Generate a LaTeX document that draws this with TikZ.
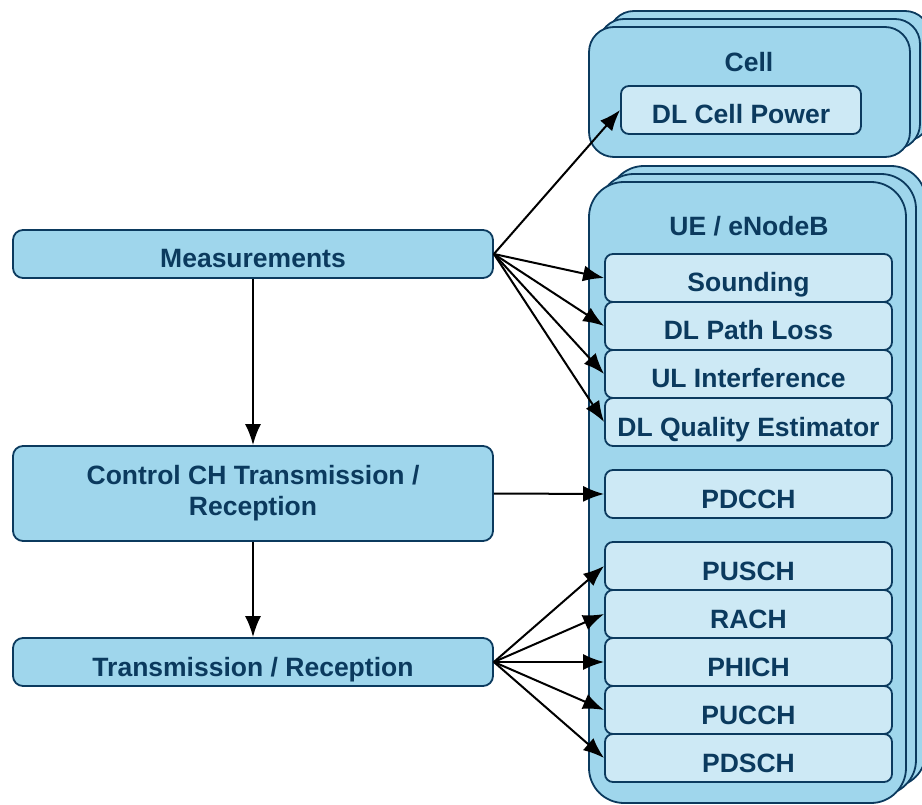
\documentclass[tikz,border=0pt]{standalone}
\usepackage{fontspec}
\setmainfont{Liberation Sans}
\usetikzlibrary{arrows.meta}

\definecolor{BoxBorder}{HTML}{0B3A5E}
\definecolor{BoxFill}{HTML}{9FD6EC}
\definecolor{ItemFill}{HTML}{CDE9F5}
\definecolor{BoxText}{HTML}{0B3A5E}

\tikzset{
  block/.style={draw=BoxBorder, fill=BoxFill, line width=1.8pt, rounded corners=10pt,
    text=BoxText, font=\fontsize{26.5}{31}\selectfont\bfseries, align=center,
    minimum width=480pt, minimum height=48pt, inner sep=0pt},
  oneline/.style={text height=30pt, text depth=2pt},
  item/.style={block, oneline, fill=ItemFill, rounded corners=8pt, minimum width=287pt},
  stack/.style={draw=BoxBorder, fill=BoxFill, line width=1.8pt},
  title/.style={text=BoxText, font=\fontsize{26.5}{31}\selectfont\bfseries},
  flow/.style={-{Latex[length=21pt,width=16pt]}, line width=2pt, black},
}

\begin{document}
\begin{tikzpicture}[x=1pt,y=-1pt]
\useasboundingbox (0,0) rectangle (922,805);

% Stapel hinten
\foreach \dx/\dy in {20/-16, 10/-8} {
  \draw[stack, rounded corners=25pt] (589+\dx,27+\dy) rectangle (910+\dx,157+\dy);
  \draw[stack, rounded corners=35pt] (589+\dx,182+\dy) rectangle (906+\dx,803+\dy);
}

% Cell
\node[stack, rounded corners=25pt, minimum width=321pt, minimum height=130pt, inner sep=0pt] (cell) at (749.5,92) {};
\node[title] (celltitle) at (749,62) {Cell};
\node[item, minimum width=240pt] (cellpower) at (741,110) {DL Cell Power};

% UE / eNodeB
\node[stack, rounded corners=35pt, minimum width=317pt, minimum height=621pt, inner sep=0pt] (ue) at (747.5,492.5) {};
\node[title] (uetitle) at (749,226) {UE / eNodeB};
\node[item] (sounding) at (748.5,278) {Sounding};
\node[item] (pathloss) at (748.5,326) {DL Path Loss};
\node[item] (interf) at (748.5,374) {UL Interference};
\node[item] (quality) at (748.5,422) {DL Quality Estimator};
\node[item] (pdcch) at (748.5,494) {PDCCH};
\node[item] (pusch) at (748.5,566) {PUSCH};
\node[item] (rach) at (748.5,614) {RACH};
\node[item] (phich) at (748.5,662) {PHICH};
\node[item] (pucch) at (748.5,710) {PUCCH};
\node[item] (pdsch) at (748.5,758) {PDSCH};

% Ablauf links
\node[block, oneline] (meas) at (253,254) {Measurements};
\node[block, minimum height=95pt] (ctrl) at (253,493.5) {Control CH Transmission /\\Reception};
\node[block, oneline] (trx) at (253,662) {Transmission / Reception};

\draw[flow] (meas) -- (ctrl);
\draw[flow] (ctrl) -- (trx);

\draw[flow] (meas.east) -- (cellpower.west);
\draw[flow] (meas.east) -- (sounding.west);
\draw[flow] (meas.east) -- (pathloss.west);
\draw[flow] (meas.east) -- (interf.west);
\draw[flow] (meas.east) -- (quality.west);

\draw[flow] (ctrl.east) -- (pdcch.west);

\draw[flow] (trx.east) -- (pusch.west);
\draw[flow] (trx.east) -- (rach.west);
\draw[flow] (trx.east) -- (phich.west);
\draw[flow] (trx.east) -- (pucch.west);
\draw[flow] (trx.east) -- (pdsch.west);

\end{tikzpicture}
\end{document}
